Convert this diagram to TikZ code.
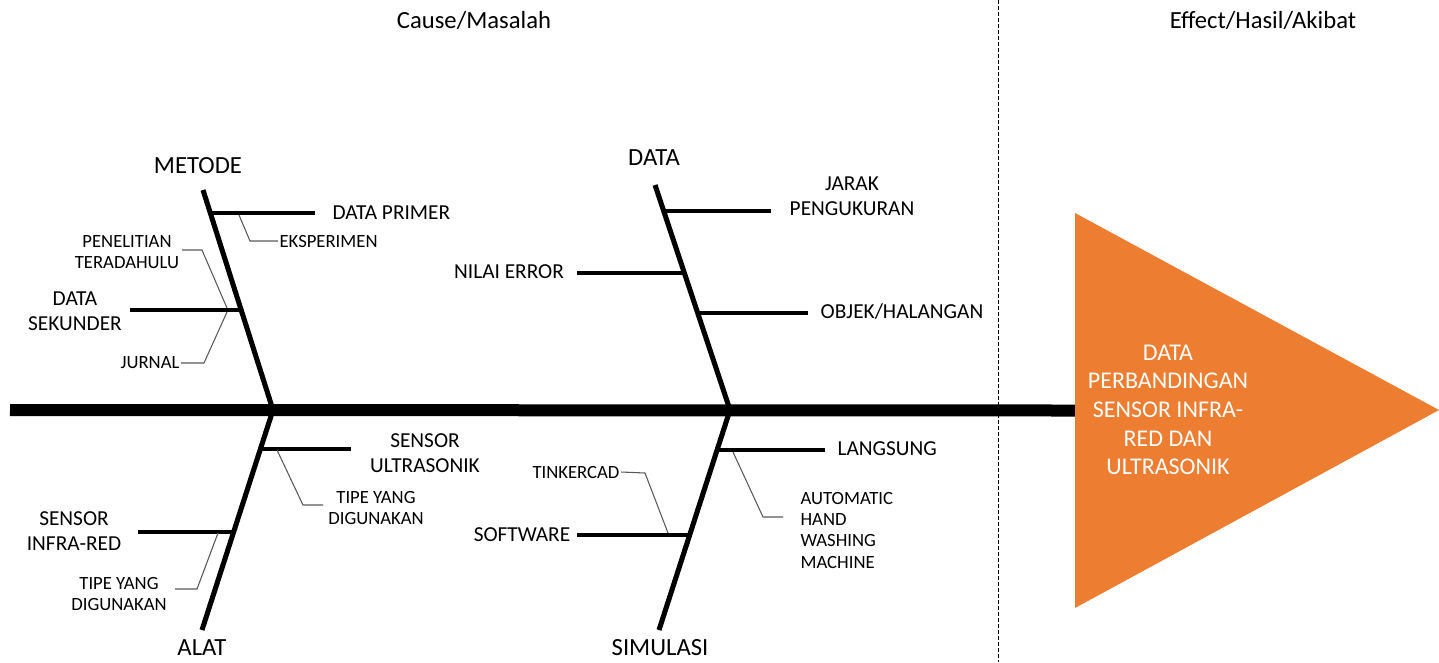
\documentclass[tikz,border=0pt]{standalone}
\usepackage{fontspec}
\setmainfont{Carlito}
\usetikzlibrary{calc}
\definecolor{fishOrange}{HTML}{ED7D31}
\definecolor{leaderGray}{HTML}{595959}

\tikzset{
	bone/.style = {line width=3.8pt},
	branch/.style = {line width=2.6pt},
	leader/.style = {line width=0.8pt, color=leaderGray},
	bonelbl/.style = {font=\fontsize{18.5}{22}\selectfont, inner sep=0pt},
	lbl/.style = {font=\fontsize{16}{19}\selectfont, inner sep=1pt, align=center},
	sml/.style = {font=\fontsize{14}{16}\selectfont, inner sep=1pt, align=center},
	head/.style = {font=\fontsize{18.5}{22}\selectfont, inner sep=1pt}
}

\begin{document}
\begin{tikzpicture}[x=0.75pt, y=-0.75pt]
	\useasboundingbox (0,0) rectangle (1439,662);
	
	% Kopf
	\node[head] (cause) at (474,20) {Cause/Masalah};
	\node[head] (effect) at (1263,20) {Effect/Hasil/Akibat};
	\coordinate (sepT) at (998,0);
	\coordinate (sepB) at (998,662);
	\draw[dashed, dash pattern=on 3pt off 1.5pt, line width=0.6pt] (sepT) -- (sepB);
	
	% Hauptgraete
	\coordinate (tail) at (10,410);
	\coordinate (triA) at (1075,213);
	\coordinate (triB) at (1075,608);
	\coordinate (triC) at (1439,410);
	\draw[line width=9pt] (tail) -- ($(triA)!0.5!(triB)$);
	\fill[fishOrange] (triA) -- (triC) -- (triB) -- cycle;
	\node[font=\fontsize{18}{21.5}\selectfont, text=white, align=center] (result) at (1168,410)
		{DATA\\PERBANDINGAN\\SENSOR INFRA-\\RED DAN\\ULTRASONIK};
	
	% Knoten
	\node[bonelbl] (metode) at (198,166) {METODE};
	\node[bonelbl] (data) at (654,158) {DATA};
	\node[bonelbl] (alat) at (202,648) {ALAT};
	\node[bonelbl] (simulasi) at (660,648) {SIMULASI};
	
	\node[lbl, anchor=west] (primer) at (331,213) {DATA PRIMER};
	\node[lbl] (sekunder) at (75,311) {DATA\\SEKUNDER};
	\node[sml, anchor=west] (eksperimen) at (278,241) {EKSPERIMEN};
	\node[sml] (penelitian) at (127,252) {PENELITIAN\\TERADAHULU};
	\node[sml, anchor=east] (jurnal) at (181,363) {JURNAL};
	
	\node[lbl] (jarak) at (852,196) {JARAK\\PENGUKURAN};
	\node[lbl] (nilai) at (509,272) {NILAI ERROR};
	\node[lbl] (objek) at (902,312) {OBJEK/HALANGAN};
	
	\node[lbl] (ultrasonik) at (425,453) {SENSOR\\ULTRASONIK};
	\node[sml] (tipeA) at (376,508) {TIPE YANG\\DIGUNAKAN};
	\node[lbl] (infrared) at (74,531) {SENSOR\\INFRA-RED};
	\node[sml] (tipeB) at (119,594) {TIPE YANG\\DIGUNAKAN};
	
	\node[lbl, anchor=west] (langsung) at (836,449) {LANGSUNG};
	\node[sml, anchor=west, align=left] (automatic) at (799,530) {AUTOMATIC\\HAND\\WASHING\\MACHINE};
	\node[lbl] (software) at (522,535) {SOFTWARE};
	\node[sml] (tinkercad) at (576,472) {TINKERCAD};
	
	% Graeten
	\coordinate (m1) at (203,190);
	\coordinate (m2) at (273,410);
	\coordinate (d1) at (655,185);
	\coordinate (d2) at (730,410);
	\coordinate (a1) at (202,630);
	\coordinate (s1) at (659,630);
	\draw[bone] (m1) -- (m2) -- (a1);
	\draw[bone] (d1) -- (d2) -- (s1);
	
	% Kanten
	\coordinate (primerR) at (209,213);   \coordinate (primerE) at (315,213);
	\coordinate (sekunderR) at (240,310); \coordinate (sekunderE) at (130,310);
	\coordinate (jarakR) at (664,211);    \coordinate (jarakE) at (771,211);
	\coordinate (nilaiR) at (683,273);    \coordinate (nilaiE) at (577,273);
	\coordinate (objekR) at (698,313);    \coordinate (objekE) at (808,313);
	\coordinate (ultraR) at (261,449);    \coordinate (ultraE) at (351,449);
	\coordinate (infraR) at (234,532);    \coordinate (infraE) at (138,532);
	\coordinate (langR) at (718,450);     \coordinate (langE) at (825,450);
	\coordinate (softR) at (690,535);     \coordinate (softE) at (577,535);
	\foreach \r/\e in {primerR/primerE, sekunderR/sekunderE, jarakR/jarakE,
		nilaiR/nilaiE, objekR/objekE, ultraR/ultraE, infraR/infraE,
		langR/langE, softR/softE}
		\draw[branch] (\r) -- (\e);
	
	% Hinweislinien
	\draw[leader] (239,215) -- (250,241) -- (eksperimen.west);
	\draw[leader] (227,308) -- (202,250) -- (182,250);
	\draw[leader] (227,312) -- (204,363) -- (jurnal.east);
	\draw[leader] (277,450) -- (303,505) -- (323,505);
	\draw[leader] (218,533) -- (197,589) -- (175,589);
	\draw[leader] (733,452) -- (763,517) -- (783,517);
	\draw[leader] (668,533) -- (645,473) -- (tinkercad.east);
	
\end{tikzpicture}
\end{document}
